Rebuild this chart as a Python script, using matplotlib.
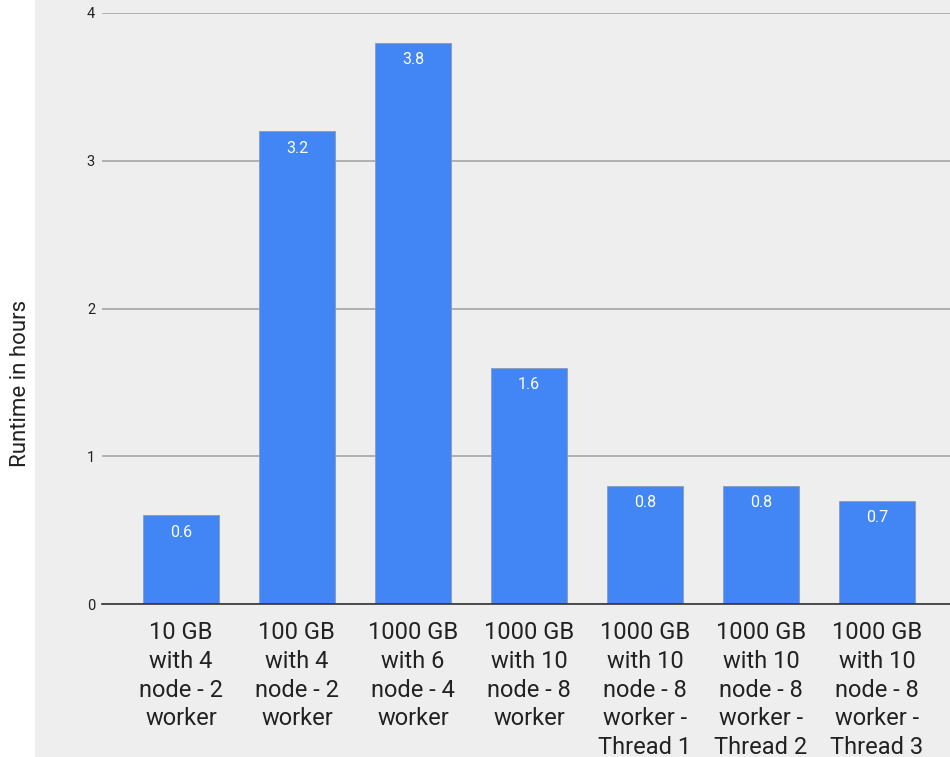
import matplotlib.pyplot as plt
from matplotlib.patches import Rectangle

plt.rcParams['font.family'] = ['Roboto', 'DejaVu Sans']

# data
labels = ['10 GB\nwith 4\nnode - 2\nworker',
          '100 GB\nwith 4\nnode - 2\nworker',
          '1000 GB\nwith 6\nnode - 4\nworker',
          '1000 GB\nwith 10\nnode - 8\nworker',
          '1000 GB\nwith 10\nnode - 8\nworker -\nThread 1',
          '1000 GB\nwith 10\nnode - 8\nworker -\nThread 2',
          '1000 GB\nwith 10\nnode - 8\nworker -\nThread 3']
runtime = [0.6, 3.2, 3.8, 1.6, 0.8, 0.8, 0.7]
yticks = [0, 1, 2, 3, 4]

bg = '#eeeeee'
blue = '#4285f4'

fig = plt.figure(figsize=(9.5, 7.57), dpi=100)
fig.patch.set_facecolor('white')
# gray panel, white strip on the left
fig.add_artist(Rectangle((35 / 950, 0), 1, 1, transform=fig.transFigure,
                         facecolor=bg, edgecolor='none', zorder=-10))

ax = fig.add_axes([102 / 950, 1 - 604 / 757, 1 - 102 / 950, (604 - 13) / 757])
ax.set_facecolor(bg)

x = list(range(len(runtime)))
bars = ax.bar(x, runtime, width=0.655, color=blue, edgecolor='#8a9bb8',
              linewidth=0.6, zorder=3)
for b, v in zip(bars, runtime):
    ax.annotate(f'{v}', (b.get_x() + b.get_width() / 2, v), xytext=(0, -17),
                textcoords='offset pixels', ha='center', va='center',
                color='white', fontsize=11.5, zorder=4)

ax.set_xlim(-0.68, 6.63)
ax.set_ylim(0, 4)
ax.set_yticks(yticks)
ax.set_yticklabels([str(t) for t in yticks], fontsize=10.5, color='#222222')
ax.set_xticks(x)
ax.set_xticklabels(labels, fontsize=17, color='#222222', linespacing=1.33, va='top')
ax.tick_params(axis='both', length=0)
ax.tick_params(axis='y', pad=5)
ax.tick_params(axis='x', pad=12)

ax.grid(axis='y', color='#b0b0b0', linewidth=1.4, zorder=0)
ax.set_axisbelow(True)
for s in ['top', 'right', 'left']:
    ax.spines[s].set_visible(False)
ax.spines['bottom'].set_color('#333333')
ax.spines['bottom'].set_linewidth(1.2)
ax.spines['bottom'].set_zorder(5)

fig.text(21 / 950, 1 - 383 / 757, 'Runtime in hours', rotation=90,
         ha='center', va='center', fontsize=16, color='#222222')

fig.savefig('out.png', dpi=100, facecolor=fig.get_facecolor())
